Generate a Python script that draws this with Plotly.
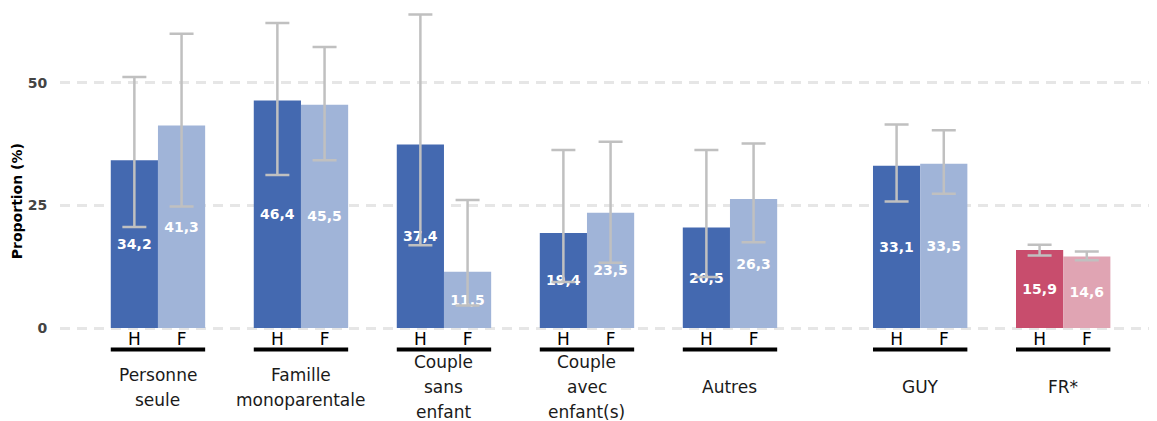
import plotly.graph_objects as go

groups = ["Personne<br>seule", "Famille<br>monoparentale", "Couple<br>sans<br>enfant",
          "Couple<br>avec<br>enfant(s)", "Autres", "GUY", "FR*"]
group_pos = [0, 1, 2, 3, 4, 5.33, 6.33]
sexes = ["H", "F"]

h_values = [34.2, 46.4, 37.4, 19.4, 20.5, 33.1, 15.9]
f_values = [41.3, 45.5, 11.5, 23.5, 26.3, 33.5, 14.6]
h_low = [20.6, 31.2, 16.9, 9.4, 10.4, 25.8, 14.8]
h_high = [51.2, 62.2, 63.9, 36.3, 36.3, 41.5, 17.0]
f_low = [24.8, 34.2, 4.6, 13.3, 17.5, 27.4, 13.8]
f_high = [60.0, 57.3, 26.1, 38.0, 37.6, 40.3, 15.6]

h_colors = ["#4469B0"] * 6 + ["#C84D6D"]
f_colors = ["#A0B4D8"] * 6 + ["#E0A4B3"]

y_ticks = [0, 25, 50]

bw = 0.33
fig = go.Figure()

def fmt(v):
    return f"{v:.1f}".replace(".", ",")

for vals, lo, hi, cols, off in [(h_values, h_low, h_high, h_colors, -bw / 2),
                                 (f_values, f_low, f_high, f_colors, bw / 2)]:
    fig.add_trace(go.Bar(
        x=[g + off for g in group_pos],
        y=vals,
        width=bw,
        marker=dict(color=cols, line=dict(width=0)),
        text=[fmt(v) for v in vals],
        textposition="inside",
        insidetextanchor="middle",
        textangle=0,
        textfont=dict(family="DejaVu Sans", size=14, color="white", weight="bold"),
        error_y=dict(type="data", symmetric=False,
                     array=[h - v for h, v in zip(hi, vals)],
                     arrayminus=[v - l for v, l in zip(vals, lo)],
                     color="#C0C0C0", thickness=2.5, width=12),
        showlegend=False,
        hoverinfo="skip",
    ))

tickvals = []
ticktext = []
for g in group_pos:
    tickvals += [g - bw / 2, g + bw / 2]
    ticktext += sexes

shapes = []
for g in group_pos:
    shapes.append(dict(type="line", xref="x", yref="paper", ysizemode="pixel", yanchor=0,
                       x0=g - bw, x1=g + bw, y0=-19.5, y1=-19.5,
                       line=dict(color="black", width=4)))

annotations = []
for g, label in zip(group_pos, groups):
    lines = label.split("<br>")
    n = len(lines)
    center = 57.0
    spacing = 25.0
    for i, ln in enumerate(lines):
        pix = center + (i - (n - 1) / 2) * spacing
        annotations.append(dict(x=g, y=0, xref="x", yref="paper", text=ln,
                                showarrow=False, xanchor="center", yanchor="middle",
                                yshift=-pix,
                                font=dict(family="DejaVu Sans", size=17, color="#1a1a1a")))

# y axis title as rotated annotation
annotations.append(dict(x=0, y=0.4, xref="paper", yref="paper", text="<b>Proportion (%)</b>",
                        textangle=-90, showarrow=False, xanchor="center", yanchor="middle",
                        xshift=-43,
                        font=dict(family="DejaVu Sans", size=14, color="black")))

# page body has an 8px margin: figure is sized/placed to compensate
fig.update_layout(
    width=1149, height=413,
    margin=dict(l=52, r=0, t=0, b=91, autoexpand=False),
    paper_bgcolor="white", plot_bgcolor="white",
    barmode="overlay",
    shapes=shapes,
    annotations=annotations,
    xaxis=dict(range=[-0.685, 6.986], tickvals=tickvals, ticktext=ticktext,
               showgrid=False, zeroline=False, showline=False, ticks="",
               automargin=False, ticklabelstandoff=-3,
               tickfont=dict(family="DejaVu Sans", size=17, color="black")),
    yaxis=dict(range=[-0.4, 65.25], tickvals=y_ticks, ticktext=[str(t) for t in y_ticks],
               showgrid=True, gridcolor="#E6E6E6", gridwidth=2.5, griddash="10px,7px",
               zeroline=False, showline=False, ticks="outside", ticklen=9,
               tickcolor="rgba(0,0,0,0)", automargin=False,
               tickfont=dict(family="DejaVu Sans", size=14, color="#444444", weight="bold")),
)

fig.write_html("out.html")
